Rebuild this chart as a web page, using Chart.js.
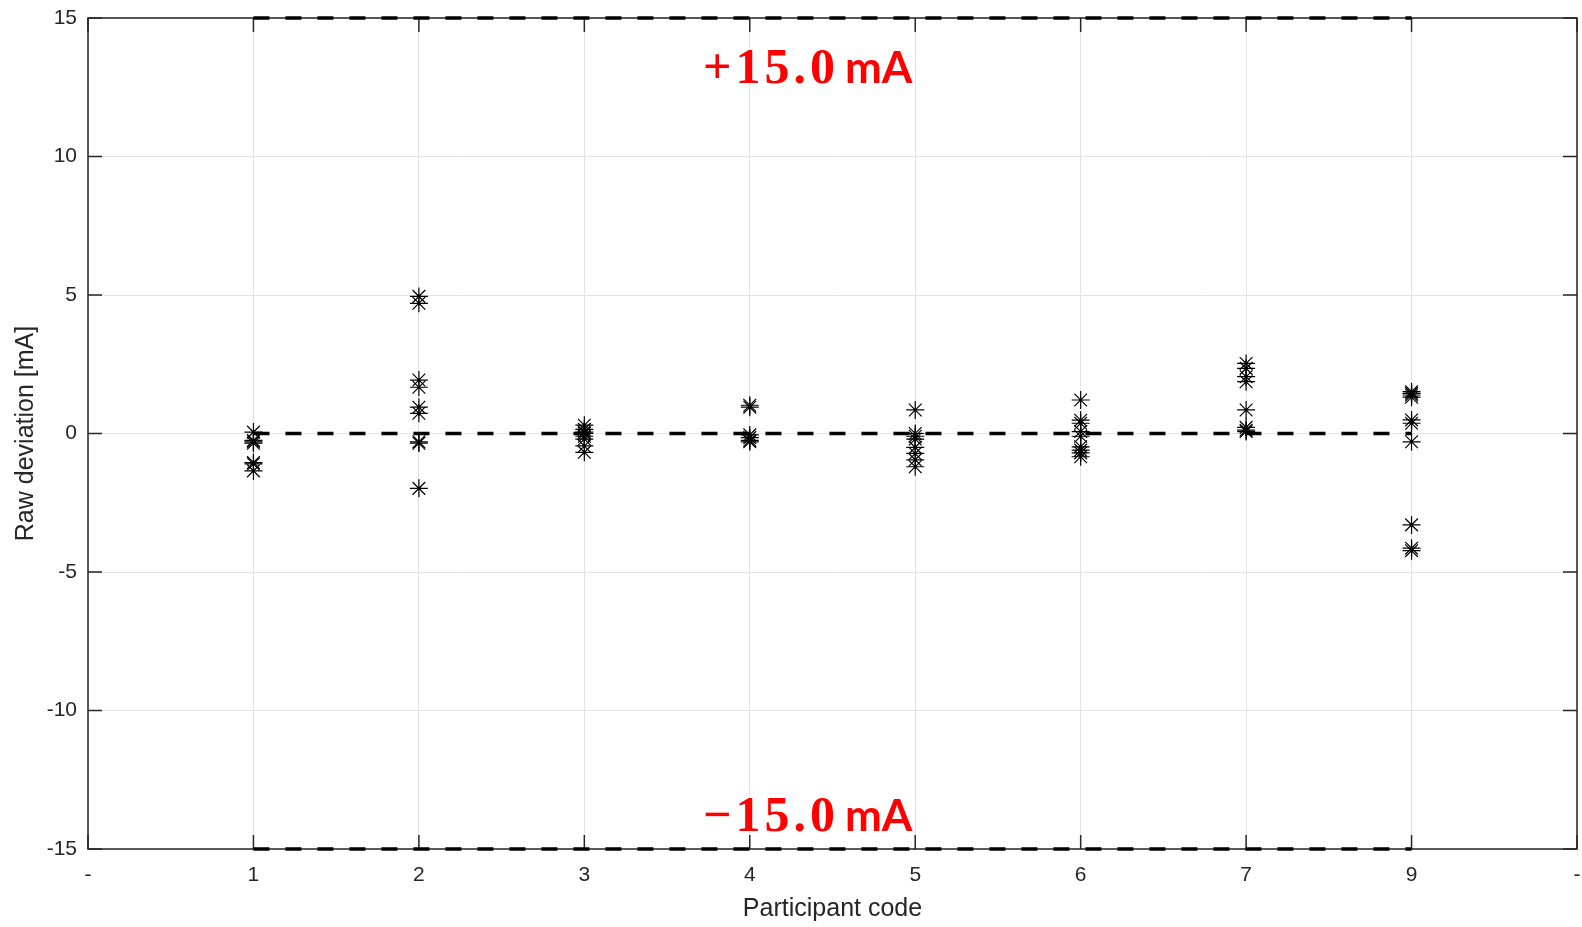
<!DOCTYPE html>
<html lang="en">
<head>
<meta charset="UTF-8">
<title>Raw deviation</title>
<script src="https://cdn.jsdelivr.net/npm/chart.js"></script>
<style>
  html, body { margin: 0; padding: 0; background: #fff; overflow: hidden; }
  #wrap { width: 1582px; height: 927px; }
</style>
</head>
<body>
<div id="wrap"><canvas id="chart"></canvas></div>
<script>
// x tick labels (first/last are padding slots shown as "-")
const tickLabels = ['-', '1', '2', '3', '4', '5', '6', '7', '9', '-'];
const participants = ['1', '2', '3', '4', '5', '6', '7', '9'];

// raw deviation per participant [mA]
const dev1 = [0.05, -0.25, -0.3, -0.35, -1.05, -1.1, -1.35];
const dev2 = [4.95, 4.7, 1.93, 1.67, 0.95, 0.73, -0.3, -0.35, -1.98];
const dev3 = [0.3, 0.15, 0.05, 0, -0.1, -0.2, -0.45, -0.68];
const dev4 = [1.02, 0.95, -0.05, -0.15, -0.25, -0.3];
const dev5 = [0.85, 0.0, -0.1, -0.2, -0.5, -0.72, -0.95, -1.2];
const dev6 = [1.21, 0.48, 0.37, 0.07, -0.1, -0.48, -0.6, -0.7, -0.84];
const dev7 = [2.53, 2.35, 2.05, 1.87, 0.85, 0.22, 0.12, 0.07];
const dev9 = [1.51, 1.45, 1.39, 1.31, 0.49, 0.37, -0.3, -3.3, -4.14, -4.23];
const deviations = [dev1, dev2, dev3, dev4, dev5, dev6, dev7, dev9];

// limit lines
const limits = [15, 0, -15];
const limitLabels = [['+15.0', 'mA'], ['\u221215.0', 'mA']];
const limitLabelY = [12.65, -14.35];

const points = [];
participants.forEach((p, i) => {
  const xi = tickLabels.indexOf(p);
  deviations[i].forEach(v => points.push({ x: xi, y: v }));
});

const firstX = tickLabels.indexOf(participants[0]);
const lastX = tickLabels.indexOf(participants[participants.length - 1]);
const limitSets = limits.map(l => ({
  type: 'line',
  data: [{ x: firstX, y: l }, { x: lastX, y: l }],
  borderColor: '#000',
  borderWidth: 3.5,
  borderDash: [16, 16],
  borderCapStyle: 'butt',
  pointRadius: 0,
  fill: false,
  clip: false,
  order: 0
}));

const frame = {
  id: 'frame',
  beforeDatasetsDraw(chart) {
    const { ctx, chartArea: a, scales: { x, y } } = chart;
    ctx.save();
    ctx.strokeStyle = '#262626';
    ctx.lineWidth = 1.5;
    ctx.strokeRect(a.left, a.top, a.right - a.left, a.bottom - a.top);
    ctx.beginPath();
    x.ticks.forEach(t => {
      const px = x.getPixelForValue(t.value);
      ctx.moveTo(px, a.bottom); ctx.lineTo(px, a.bottom - 14);
      ctx.moveTo(px, a.top); ctx.lineTo(px, a.top + 14);
    });
    y.ticks.forEach(t => {
      const py = y.getPixelForValue(t.value);
      ctx.moveTo(a.left, py); ctx.lineTo(a.left + 14, py);
      ctx.moveTo(a.right, py); ctx.lineTo(a.right - 14, py);
    });
    ctx.stroke();
    ctx.restore();
  },
  afterDatasetsDraw(chart) {
    const { ctx, scales: { x, y } } = chart;
    ctx.save();
    // red limit labels
    ctx.fillStyle = '#ff0000';
    ctx.textBaseline = 'alphabetic';
    ctx.textAlign = 'left';
    const numFont = 'bold 50px "Liberation Serif"';
    const unitFont = 'bold 44px Lato';
    const spacing = 4;
    limitLabels.forEach((parts, i) => {
      ctx.font = numFont;
      const chars = [...parts[0]];
      let numW = 0;
      chars.forEach(c => { numW += ctx.measureText(c).width + spacing; });
      numW -= spacing;
      ctx.font = unitFont;
      const unitW = ctx.measureText(parts[1]).width;
      const gap = 10;
      const total = numW + gap + unitW;
      let cx = x.getPixelForValue(4.35) - total / 2;
      const by = y.getPixelForValue(limitLabelY[i]);
      ctx.font = numFont;
      chars.forEach(c => { ctx.fillText(c, cx, by); cx += ctx.measureText(c).width + spacing; });
      cx += gap - spacing;
      ctx.font = unitFont;
      ctx.fillText(parts[1], cx, by);
    });
    ctx.restore();
  }
};

const ctx = document.getElementById('chart').getContext('2d');
new Chart(ctx, {
  type: 'scatter',
  data: {
    datasets: [{
      label: 'Raw deviation',
      data: points,
      pointStyle: 'star',
      radius: 9,
      borderColor: '#000',
      backgroundColor: '#000',
      borderWidth: 1.2,
      order: 1
    }, ...limitSets]
  },
  options: {
    responsive: true,
    maintainAspectRatio: false,
    animation: false,
    layout: { autoPadding: false, padding: { top: 18, right: 5, left: 0, bottom: 0 } },
    plugins: { legend: { display: false }, tooltip: { enabled: false } },
    scales: {
      x: {
        type: 'linear',
        min: 0,
        max: tickLabels.length - 1,
        afterFit: s => { s.height = 78; s.paddingLeft = 0; s.paddingRight = 0; },
        afterBuildTicks: s => { s.ticks = tickLabels.map((_, i) => ({ value: i })); },
        ticks: {
          autoSkip: false,
          padding: 14,
          color: '#262626',
          font: { family: 'Liberation Sans', size: 21 },
          callback: v => tickLabels[v]
        },
        grid: { color: '#e3e3e3', drawTicks: false },
        border: { display: false },
        title: {
          display: true,
          text: 'Participant code',
          color: '#262626',
          font: { family: 'Liberation Sans', size: 25 },
          padding: { top: 0, bottom: 3 }
        }
      },
      y: {
        min: -15,
        max: 15,
        afterFit: s => { s.width = 88; s.paddingTop = 0; s.paddingBottom = 0; },
        ticks: {
          stepSize: 5,
          padding: 11,
          color: '#262626',
          font: { family: 'Liberation Sans', size: 21 }
        },
        grid: { color: '#e3e3e3', drawTicks: false },
        border: { display: false },
        title: {
          display: true,
          text: 'Raw deviation [mA]',
          color: '#262626',
          font: { family: 'Liberation Sans', size: 25 },
          padding: { top: 11, bottom: 0 }
        }
      }
    }
  },
  plugins: [frame]
});
</script>
</body>
</html>
